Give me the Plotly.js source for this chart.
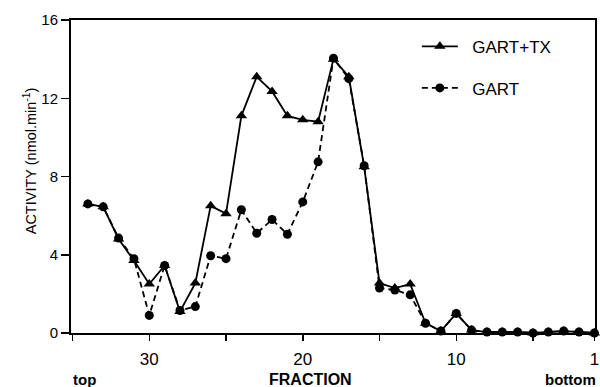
<!DOCTYPE html>
<html>
<head>
<meta charset="utf-8">
<script src="https://cdn.plot.ly/plotly-3.0.1.min.js"></script>
<style>html,body{margin:0;padding:0;background:#fff;}#chart{width:600px;height:387px;}</style>
</head>
<body>
<div id="chart"></div>
<script>
// Fraction numbers (top of gradient = 34, bottom = 1)
const fractions = [34,33,32,31,30,29,28,27,26,25,24,23,22,21,20,19,18,17,16,15,14,13,12,11,10,9,8,7,6,5,4,3,2,1];
// Activity (nmol.min-1), GART + TX
const gartTx = [6.6,6.45,4.8,3.7,2.5,3.45,1.1,2.55,6.5,6.1,11.1,13.1,12.35,11.1,10.9,10.8,14.0,13.1,8.5,2.55,2.3,2.5,0.5,0.1,1.0,0.15,0.05,0.05,0.05,0.0,0.05,0.1,0.05,0.0];
// Activity (nmol.min-1), GART alone
const gart = [6.6,6.45,4.85,3.8,0.9,3.45,1.15,1.35,3.95,3.8,6.3,5.1,5.8,5.05,6.7,8.75,14.05,13.0,8.55,2.3,2.2,1.95,0.5,0.1,1.0,0.15,0.05,0.05,0.05,0.0,0.05,0.1,0.05,0.0];
const xTickVals = [30,20,10,1];
const xTickText = ['30','20','10','1'];
const xMinorTickVals = [35,25,15,5];
const yTickVals = [0,4,8,12,16];

const FONT = 'Liberation Sans, Arial, Helvetica, sans-serif';

const traces = [
  {
    x: fractions, y: gartTx, name: '\u00a0\u00a0GART+TX', type: 'scatter', mode: 'lines+markers',
    line: {color: '#000', width: 1.8},
    marker: {symbol: 'triangle-up', size: 10, color: '#000'},
    cliponaxis: false, legend: 'legend'
  },
  {
    x: fractions, y: gart, name: '\u00a0\u00a0GART', type: 'scatter', mode: 'lines+markers',
    line: {color: '#000', width: 1.8, dash: '6px,4px'},
    marker: {symbol: 'circle', size: 9, color: '#000'},
    cliponaxis: false, legend: 'legend2'
  }
];

const layout = {
  width: 600, height: 387,
  margin: {l: 71, r: 5, t: 20, b: 54, pad: 0},
  paper_bgcolor: '#fff', plot_bgcolor: '#fff',
  font: {family: FONT, color: '#000'},
  showlegend: true,
  legend: {x: 0.66, y: 0.9146, xanchor: 'left', yanchor: 'middle', bgcolor: 'rgba(0,0,0,0)',
           borderwidth: 0, font: {size: 17, family: FONT}, itemwidth: 36},
  legend2: {x: 0.66, y: 0.7816, xanchor: 'left', yanchor: 'middle', bgcolor: 'rgba(0,0,0,0)',
            borderwidth: 0, font: {size: 17, family: FONT}, itemwidth: 36},
  xaxis: {
    range: [35.1, 0.96], tickmode: 'array', tickvals: xTickVals, ticktext: xTickText,
    ticks: 'outside', ticklen: 6, tickwidth: 1.5, tickcolor: '#000',
    minor: {tickmode: 'array', tickvals: xMinorTickVals, ticks: 'outside', ticklen: 6, tickwidth: 1.5, tickcolor: '#000', showgrid: false},
    showline: true, linecolor: '#000', linewidth: 2, mirror: true,
    showgrid: false, zeroline: false, tickfont: {size: 17, family: FONT},
    ticklabelstandoff: 4
  },
  yaxis: {
    range: [0, 16], tickmode: 'array', tickvals: yTickVals,
    ticks: 'outside', ticklen: 8, tickwidth: 1.5, tickcolor: '#000',
    showline: true, linecolor: '#000', linewidth: 2, mirror: true,
    showgrid: false, zeroline: false, tickfont: {size: 15, family: FONT}
  },
  annotations: [
    {text: 'ACTIVITY (nmol.min<sup>-1</sup>)', xref: 'paper', yref: 'paper', x: -0.078, y: 0.549,
     xanchor: 'center', yanchor: 'middle', textangle: -90, showarrow: false, font: {size: 14.5, family: FONT}},
    {text: '<b>FRACTION</b>', xref: 'paper', yref: 'paper', x: 0.4576, y: -0.15,
     xanchor: 'center', yanchor: 'middle', showarrow: false, font: {size: 16, family: FONT}},
    {text: '<b>top</b>', xref: 'paper', yref: 'paper', x: 0.0, y: -0.15,
     xanchor: 'left', yanchor: 'middle', showarrow: false, font: {size: 15, family: FONT}},
    {text: '<b>bottom</b>', xref: 'paper', yref: 'paper', x: 1.005, y: -0.15,
     xanchor: 'right', yanchor: 'middle', showarrow: false, font: {size: 15, family: FONT}}
  ]
};

Plotly.newPlot('chart', traces, layout, {displayModeBar: false, staticPlot: true});
</script>
</body>
</html>
